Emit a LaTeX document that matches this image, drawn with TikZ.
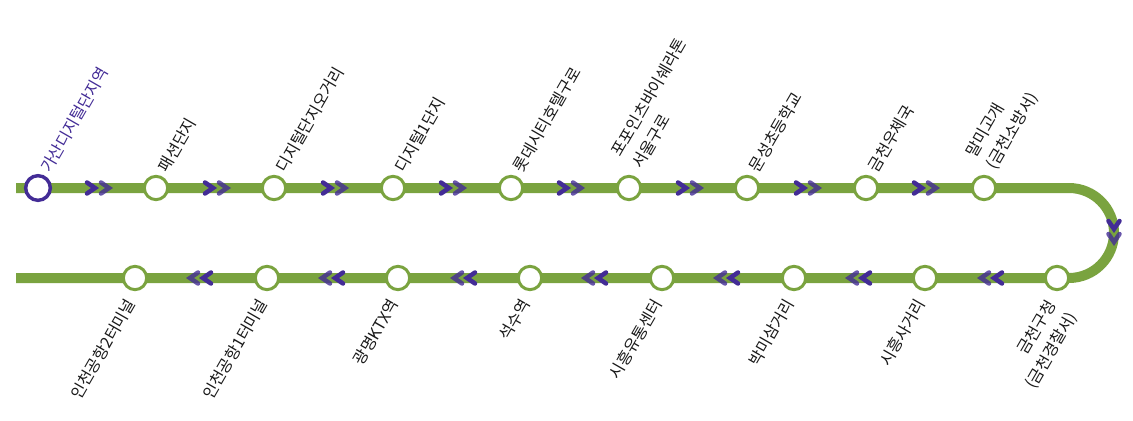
\documentclass[tikz,border=0pt]{standalone}
\usepackage{fontspec}
\setmainfont{Noto Sans CJK KR}
\usetikzlibrary{backgrounds}
\definecolor{lineg}{HTML}{7AA33F}
\definecolor{violetd}{HTML}{432C96}
\tikzset{
  x=0.75pt,y=-0.75pt,
  route/.style={draw=lineg,line width=7.5pt,line join=round},
  station/.style={circle,draw=lineg,fill=white,line width=2.25pt,minimum size=17.5pt,inner sep=0pt},
  terminus/.style={station,draw=violetd,line width=2.6pt,minimum size=18.5pt},
  chevline/.style={draw=violetd,line width=3.4pt,line cap=round,line join=miter},
  chevfront/.pic={\draw[chevline] (-5,-5.5) -- (3,0) -- (-5,5.5);},
  chevback/.pic={\draw[chevline,opacity=.8] (-5,-5.5) -- (3,0) -- (-5,5.5);},
  toplabel/.style={rotate=60,anchor=west,inner sep=0pt,font=\fontsize{12pt}{18pt}\selectfont,text=black!90,align=left},
  botlabel/.style={rotate=60,anchor=east,inner sep=0pt,font=\fontsize{12pt}{18pt}\selectfont,text=black!90,align=right}
}
\begin{document}
\begin{tikzpicture}
\useasboundingbox (0,0) rectangle (1133,421);
\coordinate (startT) at (16,188);
\coordinate (endB) at (16,278);
\coordinate (bendT) at (1069,188);
\node[terminus] (t1) at (38,188) {};
\node[station] (t2) at (156,188) {};
\node[station] (t3) at (274,188) {};
\node[station] (t4) at (393,188) {};
\node[station] (t5) at (511,188) {};
\node[station] (t6) at (629,188) {};
\node[station] (t7) at (747,188) {};
\node[station] (t8) at (866,188) {};
\node[station] (t9) at (984,188) {};
\node[station] (b1) at (1057,278) {};
\node[station] (b2) at (925,278) {};
\node[station] (b3) at (794,278) {};
\node[station] (b4) at (662,278) {};
\node[station] (b5) at (530,278) {};
\node[station] (b6) at (398,278) {};
\node[station] (b7) at (267,278) {};
\node[station] (b8) at (135,278) {};
\begin{scope}[on background layer]
\draw[route] (startT) -- (t1.center) -- (t2.center) -- (t3.center) -- (t4.center) -- (t5.center) -- (t6.center) -- (t7.center) -- (t8.center) -- (t9.center) -- (bendT) arc[start angle=-90,end angle=90,radius=45] -- (b1.center) -- (b2.center) -- (b3.center) -- (b4.center) -- (b5.center) -- (b6.center) -- (b7.center) -- (b8.center) -- (endB);
\end{scope}
\foreach \x in {92,210,328,446,564,683,801,919} {
  \pic at (\x,188) {chevfront};
  \pic at (\x+14,188) {chevback};
}
\pic[rotate=-90] at (1114,226) {chevfront};
\pic[rotate=-90] at (1114,239) {chevback};
\foreach \x in {193,325,457,588,720,852,984} {
  \pic[rotate=180] at (\x,278) {chevback};
  \pic[rotate=180] at (\x+13,278) {chevfront};
}
\node[toplabel,text=violetd] (l1) at (45,171) {가산디지털단지역};
\node[toplabel] (l2) at (162.5,170.5) {패션단지};
\node[toplabel] (l3) at (280.5,170.5) {디지털단지오거리};
\node[toplabel] (l4) at (399.5,170.5) {디지털1단지};
\node[toplabel] (l5) at (517.5,170.5) {롯데시티호텔구로};
\node[toplabel] (l6) at (626,161) {포포인츠바이쉐라톤\\서울구로};
\node[toplabel] (l7) at (753.5,170.5) {문성초등학교};
\node[toplabel] (l8) at (872.5,170.5) {금천우체국};
\node[toplabel] (l9) at (981,162) {말미고개\\(금천소방서)};
\node[botlabel] (m1) at (1062.5,308) {금천구청\\(금천경찰서)};
\node[botlabel] (m2) at (921,300.5) {시흥사거리};
\node[botlabel] (m3) at (790,300.5) {박미삼거리};
\node[botlabel] (m4) at (658,300.5) {시흥유통센터};
\node[botlabel] (m5) at (526,300.5) {석수역};
\node[botlabel] (m6) at (394,300.5) {광명KTX역};
\node[botlabel] (m7) at (263,300.5) {인천공항1터미널};
\node[botlabel] (m8) at (131,300.5) {인천공항2터미널};
\end{tikzpicture}
\end{document}
